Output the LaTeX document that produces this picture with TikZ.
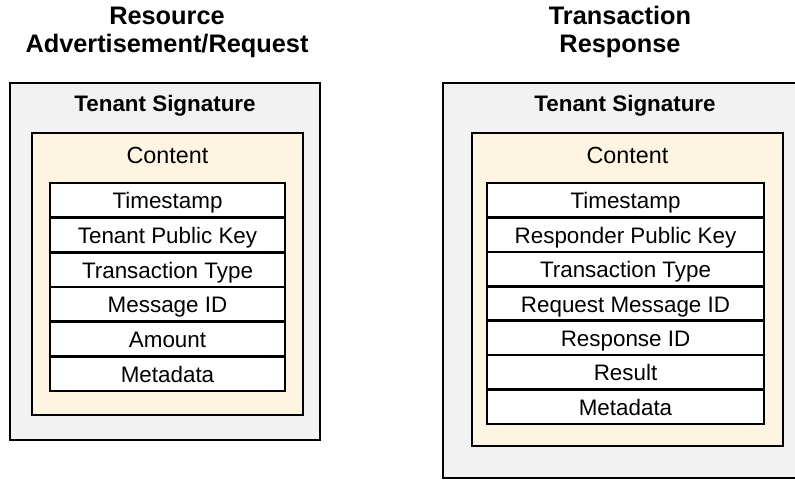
\documentclass[tikz,border=0pt]{standalone}
\usepackage{fontspec}
\setmainfont{Liberation Sans}
\usetikzlibrary{calc}
\definecolor{sigGray}{RGB}{242,242,242}
\definecolor{contentCream}{RGB}{253,245,225}

\begin{document}
\begin{tikzpicture}[x=0.75pt,y=-0.75pt,
    sigbox/.style={draw=black,line width=2pt,fill=sigGray},
    contentbox/.style={draw=black,line width=2pt,fill=contentCream},
    fieldbox/.style={draw=black,line width=2pt,fill=white},
    field/.style={anchor=base,inner sep=0pt,font=\fontsize{16.8}{19}\selectfont},
    heading/.style={anchor=base,inner sep=0pt,align=center,font=\bfseries\fontsize{19}{21}\selectfont}]
  \clip (0,0) rectangle (795,481);

  %% Resource advertisement / request
  \node[heading] (ReqTitle) at (167,53) {Resource\\Advertisement/Request};
  \coordinate (ReqSigUL) at (10,83);
  \coordinate (ReqSigLR) at (320,440);
  \draw[sigbox] (ReqSigUL) rectangle (ReqSigLR);
  \node[field,font=\bfseries\fontsize{16.8}{19}\selectfont] (ReqSig) at (165,112) {Tenant Signature};
  \coordinate (ReqConUL) at (32,133);
  \coordinate (ReqConLR) at (303,415);
  \draw[contentbox] (ReqConUL) rectangle (ReqConLR);
  \node[field,font=\fontsize{17.5}{20}\selectfont] (ReqCon) at (167.5,163) {Content};
  \foreach \label [count=\x from 0] in {Timestamp,Tenant Public Key,Transaction Type,Message ID,Amount,Metadata}
  {
    \coordinate (ReqUL\x) at (50,{183+34.67*\x});
    \coordinate (ReqLR\x) at (285,{217.67+34.67*\x});
    \draw[fieldbox] (ReqUL\x) rectangle (ReqLR\x);
    \node[field] (Req\x) at ($($(ReqUL\x)!0.5!(ReqLR\x)$)+(0,8.5)$) {\label};
  }

  %% Transaction response
  \node[heading] (ResTitle) at (620,53) {Transaction\\Response};
  \coordinate (ResSigUL) at (443,83);
  \coordinate (ResSigLR) at (808,478);
  \draw[sigbox] (ResSigUL) rectangle (ResSigLR);
  \node[field,font=\bfseries\fontsize{16.8}{19}\selectfont] (ResSig) at (625,112) {Tenant Signature};
  \coordinate (ResConUL) at (472,133);
  \coordinate (ResConLR) at (783,446);
  \draw[contentbox] (ResConUL) rectangle (ResConLR);
  \node[field,font=\fontsize{17.5}{20}\selectfont] (ResCon) at (627.5,163) {Content};
  \foreach \label [count=\x from 0] in {Timestamp,Responder Public Key,Transaction Type,Request Message ID,Response ID,Result,Metadata}
  {
    \coordinate (ResUL\x) at (487,{183+34.43*\x});
    \coordinate (ResLR\x) at (764,{217.43+34.43*\x});
    \draw[fieldbox] (ResUL\x) rectangle (ResLR\x);
    \node[field] (Res\x) at ($($(ResUL\x)!0.5!(ResLR\x)$)+(0,8.5)$) {\label};
  }
\end{tikzpicture}
\end{document}
